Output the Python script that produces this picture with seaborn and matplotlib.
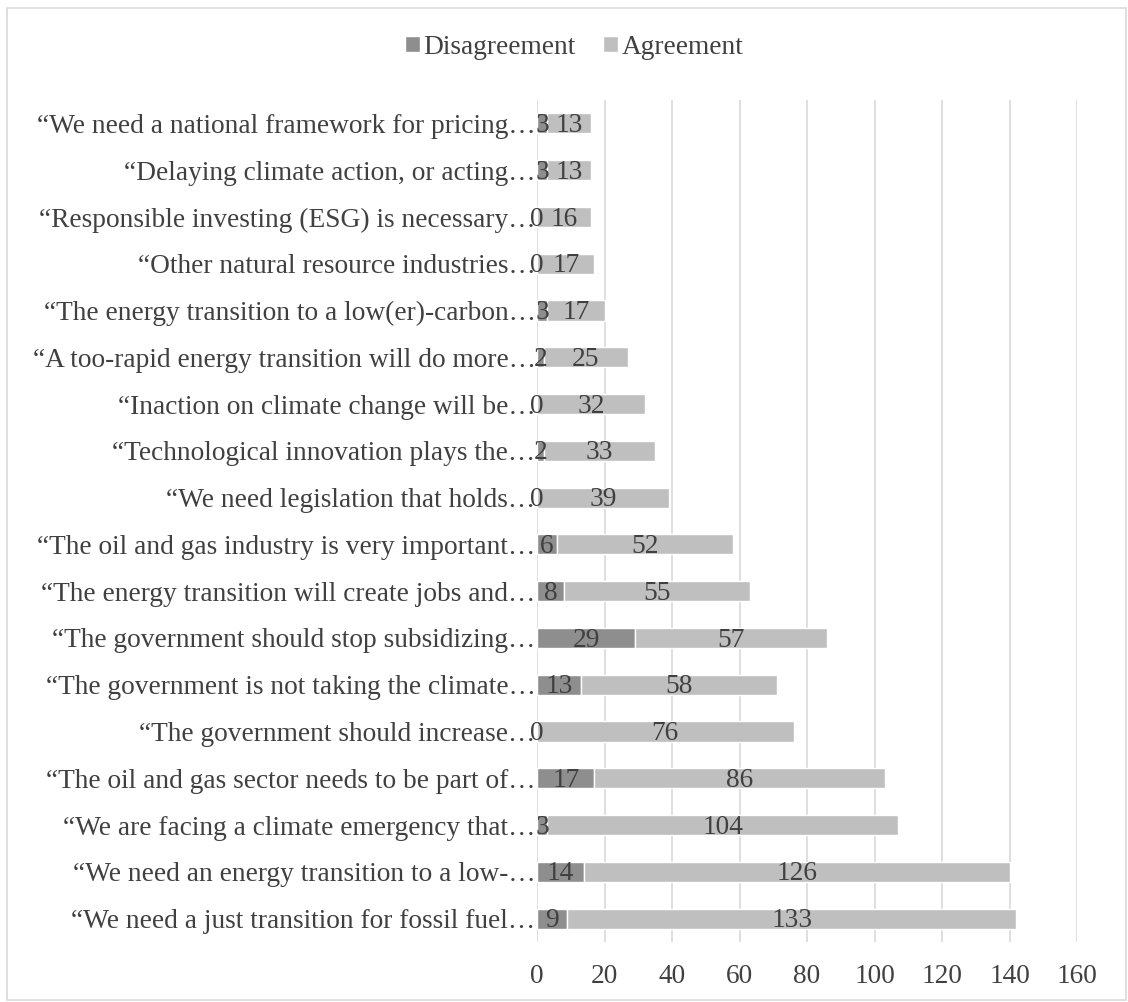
import matplotlib
matplotlib.use("Agg")
import matplotlib.pyplot as plt
from matplotlib.patches import Patch, Rectangle
import seaborn as sns
import pandas as pd

statements = [
    "\u201cWe need a national framework for pricing\u2026",
    "\u201cDelaying climate action, or acting\u2026",
    "\u201cResponsible investing (ESG) is necessary\u2026",
    "\u201cOther natural resource industries\u2026",
    "\u201cThe energy transition to a low(er)-carbon\u2026",
    "\u201cA too-rapid energy transition will do more\u2026",
    "\u201cInaction on climate change will be\u2026",
    "\u201cTechnological innovation plays the\u2026",
    "\u201cWe need legislation that holds\u2026",
    "\u201cThe oil and gas industry is very important\u2026",
    "\u201cThe energy transition will create jobs and\u2026",
    "\u201cThe government should stop subsidizing\u2026",
    "\u201cThe government is not taking the climate\u2026",
    "\u201cThe government should increase\u2026",
    "\u201cThe oil and gas sector needs to be part of\u2026",
    "\u201cWe are facing a climate emergency that\u2026",
    "\u201cWe need an energy transition to a low-\u2026",
    "\u201cWe need a just transition for fossil fuel\u2026",
]
disagreement = [3, 3, 0, 0, 3, 2, 0, 2, 0, 6, 8, 29, 13, 0, 17, 3, 14, 9]
agreement = [13, 13, 16, 17, 17, 25, 32, 33, 39, 52, 55, 57, 58, 76, 86, 104, 126, 133]
x_ticks = [0, 20, 40, 60, 80, 100, 120, 140, 160]

DIS_COLOR = "#8e8e8e"
AGR_COLOR = "#bfbfbf"
TEXT_COLOR = "#404040"
GRID_COLOR = "#d9d9d9"
FS = 19.7

sns.set_theme(style="white")
plt.rcParams["font.family"] = ["Liberation Serif", "DejaVu Serif"]

df = pd.DataFrame({"statement": statements,
                   "Disagreement": disagreement,
                   "Agreement": agreement})

W, H = 1128, 1002
fig = plt.figure(figsize=(W / 100, H / 100), dpi=100)
ax = fig.add_axes([537 / W, 1 - 942 / H, (1077 - 537) / W, (942 - 100) / H])

bar_h = 0.43
sns.barplot(data=df, x="Disagreement", y="statement", orient="h",
            color=DIS_COLOR, width=bar_h, saturation=1, ax=ax, zorder=3)
ax.barh(range(len(statements)), df["Agreement"], left=df["Disagreement"],
        height=bar_h, color=AGR_COLOR, zorder=3)

# value labels centred in each segment
for i, (d, a) in enumerate(zip(disagreement, agreement)):
    ax.annotate(str(d), (d / 2, i), xytext=(0, -1.5), textcoords="offset points",
                ha="center", va="center", fontsize=FS, color=TEXT_COLOR, zorder=4)
    ax.annotate(str(a), (d + a / 2, i), xytext=(0, -1.5), textcoords="offset points",
                ha="center", va="center", fontsize=FS, color=TEXT_COLOR, zorder=4)

ax.set_xlim(0, 160)
ax.set_ylim(len(statements) - 0.5, -0.5)
ax.set_xticks(x_ticks)
ax.set_xticklabels([str(t) for t in x_ticks])
ax.set_xlabel("")
ax.set_ylabel("")
ax.xaxis.grid(True, color=GRID_COLOR, linewidth=1.2)
ax.yaxis.grid(False)
ax.set_axisbelow(True)
for s in ax.spines.values():
    s.set_visible(False)
ax.tick_params(axis="x", length=0, pad=16, labelsize=FS, labelcolor=TEXT_COLOR)
ax.tick_params(axis="y", length=0, pad=1, labelsize=FS, labelcolor=TEXT_COLOR)

handles = [Patch(facecolor=DIS_COLOR, label="Disagreement"),
           Patch(facecolor=AGR_COLOR, label="Agreement")]
fig.legend(handles=handles, loc="center", bbox_to_anchor=(574 / W, 1 - 47 / H),
           ncol=2, frameon=False, fontsize=FS, handlelength=0.55,
           handleheight=0.55, handletextpad=0.12, columnspacing=1.0,
           labelcolor=TEXT_COLOR)

fig.patches.append(Rectangle((7 / W, 1 - 1000 / H), (1126 - 7) / W, (1000 - 8) / H,
                             transform=fig.transFigure, fill=False,
                             edgecolor=GRID_COLOR, linewidth=1.2))

fig.savefig("out.png", dpi=100)
